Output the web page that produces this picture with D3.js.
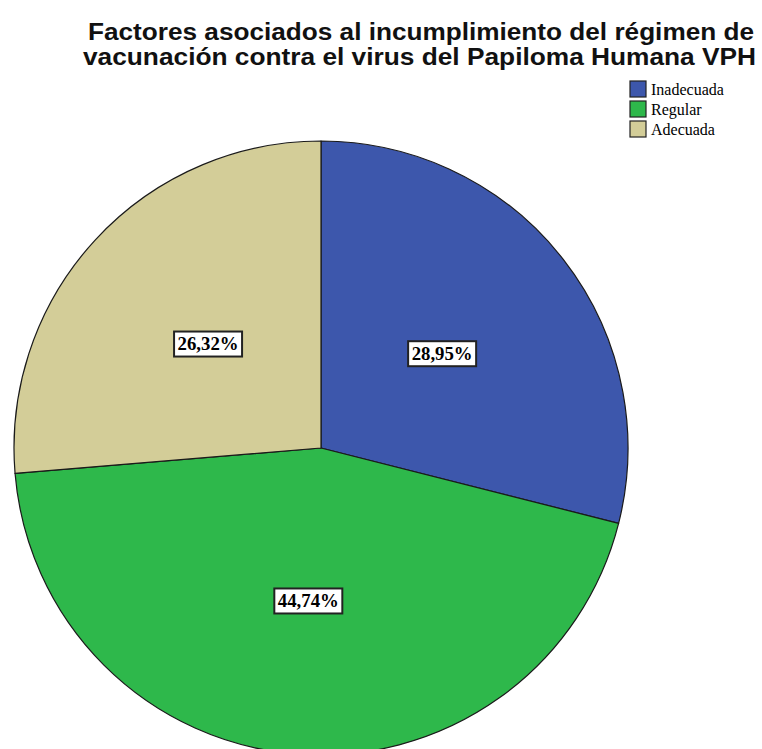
<!DOCTYPE html>
<html>
<head>
<meta charset="utf-8">
<script src="https://cdn.jsdelivr.net/npm/d3@7"></script>
<style>
  html, body { margin: 0; padding: 0; background: #ffffff; }
  svg { display: block; }
</style>
</head>
<body>
<script>
const categories = ["Inadecuada", "Regular", "Adecuada"];
const counts = [11, 17, 10];
const percentLabels = ["28,95%", "44,74%", "26,32%"];
const colors = ["#3d57ac", "#2eb84b", "#d3cd98"];
const titleLines = [
  "Factores asociados al incumplimiento del régimen de",
  "vacunación contra el virus del Papiloma Humana VPH"
];

const W = 762, H = 749;
const svg = d3.select("body").append("svg").attr("width", W).attr("height", H);

// Title
const titleSpecs = [{x: 421, y: 40, len: 666}, {x: 419.5, y: 65, len: 673}];
svg.selectAll("text.title").data(titleLines).enter().append("text")
  .attr("class", "title")
  .attr("x", (d, i) => titleSpecs[i].x)
  .attr("y", (d, i) => titleSpecs[i].y)
  .attr("text-anchor", "middle")
  .attr("textLength", (d, i) => titleSpecs[i].len)
  .attr("lengthAdjust", "spacingAndGlyphs")
  .style("font-family", "'Liberation Sans', Arial, sans-serif")
  .style("font-weight", "bold")
  .style("font-size", "23px")
  .style("fill", "#111")
  .text(d => d);

// Pie
const cx = 321, cy = 448, R = 307;
const data = categories.map((c, i) => ({cat: c, value: counts[i], label: percentLabels[i], color: colors[i]}));
const pie = d3.pie().value(d => d.value).sort(null);
const arc = d3.arc().innerRadius(0).outerRadius(R);
const arcs = pie(data);
const g = svg.append("g").attr("transform", `translate(${cx},${cy})`);
g.selectAll("path").data(arcs).enter().append("path")
  .attr("d", arc)
  .attr("fill", d => d.data.color)
  .attr("stroke", "#1a1a1a")
  .attr("stroke-width", 1.2)
  .attr("stroke-linejoin", "round");

// Labels at the arc centroid (R/2)
const lab = g.selectAll("g.lab").data(arcs).enter().append("g")
  .attr("class", "lab")
  .attr("transform", d => { const c = arc.centroid(d); return `translate(${c[0]},${c[1]})`; });
lab.append("rect")
  .attr("x", -34).attr("y", -12.5).attr("width", 68).attr("height", 25)
  .attr("fill", "#ffffff")
  .attr("stroke", "#222")
  .attr("stroke-width", 2);
lab.append("text")
  .attr("x", 0).attr("y", 6)
  .attr("text-anchor", "middle")
  .attr("textLength", 61)
  .attr("lengthAdjust", "spacingAndGlyphs")
  .style("font-family", "'Liberation Serif', 'Times New Roman', serif")
  .style("font-weight", "bold")
  .style("font-size", "18px")
  .style("fill", "#000")
  .text(d => d.data.label);

// Legend
const leg = svg.append("g");
const li = leg.selectAll("g").data(data).enter().append("g")
  .attr("transform", (d, i) => `translate(630,${81 + i * 20})`);
li.append("rect")
  .attr("width", 16).attr("height", 16)
  .attr("fill", d => d.color)
  .attr("stroke", "#222").attr("stroke-width", 1.2);
li.append("text")
  .attr("x", 21).attr("y", 13.5)
  .style("font-family", "'Liberation Serif', 'Times New Roman', serif")
  .style("font-size", "16px")
  .style("fill", "#000")
  .text(d => d.cat);
</script>
</body>
</html>
